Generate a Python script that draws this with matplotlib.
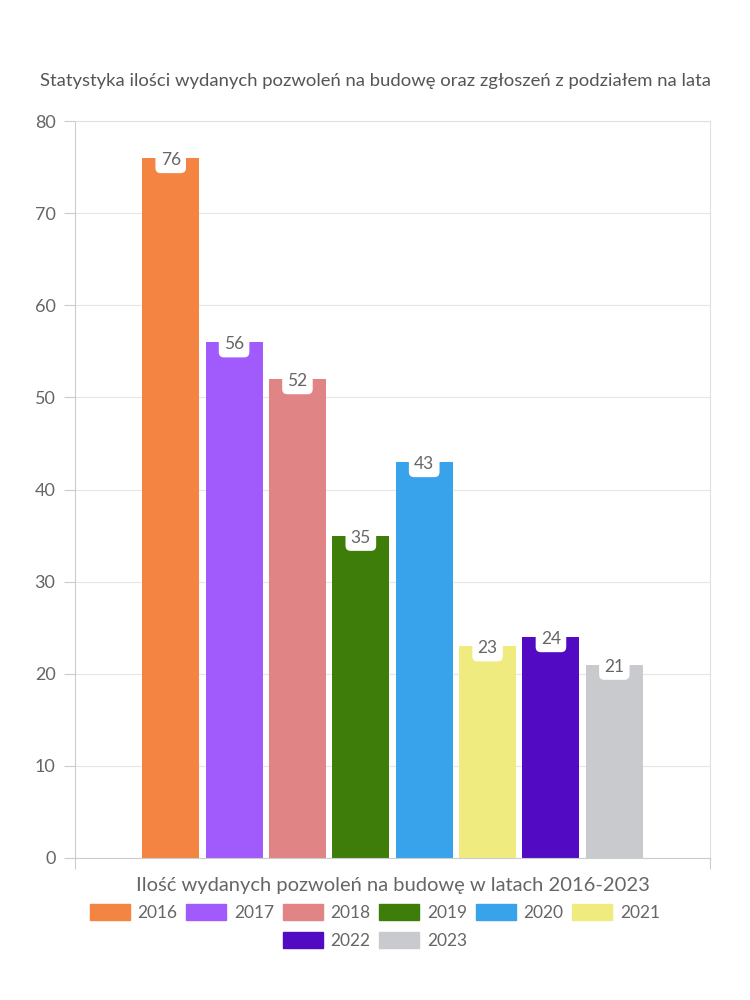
import matplotlib
matplotlib.use("Agg")
import matplotlib.pyplot as plt
from matplotlib.patches import Patch

years = ["2016", "2017", "2018", "2019", "2020", "2021", "2022", "2023"]
permits = [76, 56, 52, 35, 43, 23, 24, 21]
colors = ["#F48441", "#A15BFC", "#E08485", "#3E7D0A", "#38A2EB", "#F0EB7E", "#520BC3", "#C9CACE"]
y_ticks = [0, 10, 20, 30, 40, 50, 60, 70, 80]

TEXT = "#666666"
plt.rcParams["font.family"] = ["Lato", "DejaVu Sans"]

fig = plt.figure(figsize=(7.5, 10), dpi=100)
ax = fig.add_axes([0.1, 0.142, 0.8467, 0.737])

positions = list(range(len(years)))
bars = ax.bar(positions, permits, width=0.9, color=colors, zorder=2)

for pos, value in zip(positions, permits):
    ax.annotate(str(value), (pos, value), xytext=(0, -1.5), textcoords="offset points",
                ha="center", va="center", fontsize=12.5, color=TEXT, zorder=3,
                bbox=dict(boxstyle="round,pad=0.3,rounding_size=0.3", fc="white", ec="none"))

ax.set_ylim(0, 80)
ax.set_xlim(-1.51, len(years) - 1 + 1.51)
ax.set_yticks(y_ticks)
ax.set_xticks([-1.51, len(years) - 1 + 1.51])
ax.set_xticklabels(["", ""])
ax.tick_params(axis="y", colors="#cccccc", labelcolor=TEXT, labelsize=13, length=8, pad=6)
ax.tick_params(axis="x", colors="#cccccc", length=8)
ax.grid(axis="y", color="#e6e6e6", linewidth=0.8, zorder=0)
for spine in ax.spines.values():
    spine.set_color("#e0e0e0")
ax.spines["left"].set_color("#cccccc")
ax.spines["bottom"].set_color("#cccccc")

ax.set_xlabel("Ilość wydanych pozwoleń na budowę w latach 2016-2023", fontsize=14.5, color=TEXT, labelpad=2)
fig.text(0.5, 0.919, "Statystyka ilości wydanych pozwoleń na budowę oraz zgłoszeń z podziałem na lata",
         ha="center", va="center", fontsize=13.3, color="#555555")

# two legends so the second row is centred like the original
handles = [Patch(color=c, label=y) for c, y in zip(colors, years)]
common = dict(frameon=False, fontsize=12.5, handlelength=2.3, handleheight=1.0,
              handletextpad=0.45, columnspacing=0.5, labelcolor=TEXT)
fig.legend(handles=handles[:6], ncol=6, loc="center", bbox_to_anchor=(0.5, 0.0875), **common)
fig.legend(handles=handles[6:], ncol=2, loc="center", bbox_to_anchor=(0.5, 0.0595), **common)

fig.savefig("out.png", dpi=100)
